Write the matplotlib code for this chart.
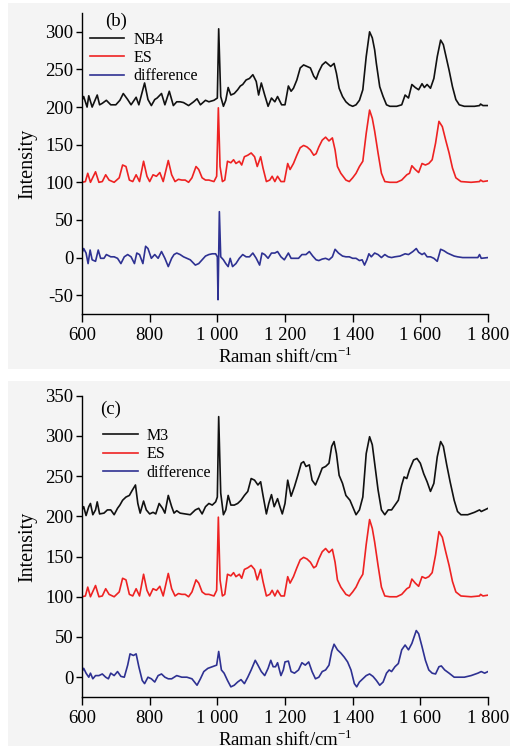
import matplotlib
matplotlib.use("Agg")
import matplotlib.pyplot as plt
from matplotlib.patches import Rectangle

plt.rcParams['font.family'] = ['Liberation Serif', 'DejaVu Serif']
plt.rcParams['mathtext.fontset'] = 'custom'
plt.rcParams['mathtext.rm'] = 'Liberation Serif'

# ---------------- data ----------------
xticks = [600, 800, 1000, 1200, 1400, 1600, 1800]
xtick_labels = ['600', '800', '1 000', '1 200', '1 400', '1 600', '1 800']
yticks_b = [-50, 0, 50, 100, 150, 200, 250, 300]
ytick_labels_b = ['-50', '0', '50', '100', '150', '200', '250', '300']
yticks_c = [0, 50, 100, 150, 200, 250, 300, 350]
ytick_labels_c = ['0', '50', '100', '150', '200', '250', '300', '350']

# NB4 spectrum (panel b)
nb4_x = [600, 605, 615, 620, 630, 645, 652, 660, 672, 685, 700, 712, 722, 735, 745, 760, 768,
         785, 795, 805, 815, 822, 835, 845, 858, 870, 880, 890, 900, 915, 930, 940, 950, 965,
         975, 990, 1000, 1004, 1010, 1018, 1025, 1032, 1040, 1050, 1060, 1068, 1075, 1085,
         1095, 1105, 1115, 1122, 1130, 1140, 1150, 1160, 1170, 1178, 1190, 1200, 1210, 1218,
         1225, 1235, 1245, 1255, 1265, 1275, 1285, 1292, 1300, 1310, 1320, 1330, 1335, 1345,
         1352, 1360, 1370, 1380, 1390, 1400, 1410, 1420, 1430, 1440, 1450, 1458, 1465, 1470,
         1480, 1490, 1500, 1510, 1530, 1545, 1555, 1565, 1575, 1585, 1595, 1605, 1612, 1620,
         1630, 1640, 1650, 1660, 1668, 1675, 1685, 1695, 1705, 1715, 1730, 1760, 1775, 1778,
         1785, 1800]
nb4_y = [209, 214, 200, 215, 200, 216, 203, 205, 209, 203, 203, 209, 218, 210, 203, 213, 203,
         232, 210, 202, 210, 212, 218, 203, 221, 202, 207, 207, 206, 202, 207, 211, 203, 209,
         207, 209, 212, 304, 214, 201, 209, 226, 216, 218, 223, 228, 230, 236,
         238, 243, 234, 216, 232, 216, 201, 212, 207, 214, 203, 203, 228, 221,
         225, 236, 252, 256, 254, 252, 241, 237, 247, 256, 260, 256, 254, 258,
         245, 225, 214, 207, 203, 201, 203, 209, 223, 267, 300, 292, 276, 258,
         227, 214, 203, 201, 201, 203, 216, 212, 230, 226, 223, 231, 226, 230,
         225, 238, 267, 289, 283, 269, 249, 227, 210, 203, 201, 201, 202, 204,
         202, 202]

# ES spectrum (both panels)
es_x = [600, 610, 617, 625, 640, 650, 660, 670, 680, 695, 710, 720, 730, 740, 750, 760, 770,
        782, 792, 800, 810, 820, 830, 840, 855, 865, 875, 885, 895, 905, 915, 925, 937, 945,
        955, 965, 975, 990, 998, 1003, 1008, 1015, 1022, 1030, 1040, 1048, 1055, 1065, 1072,
        1080, 1090, 1100, 1110, 1118, 1128, 1135, 1145, 1155, 1162, 1170, 1178, 1188, 1198,
        1208, 1215, 1225, 1235, 1245, 1255, 1265, 1275, 1285, 1292, 1300, 1310, 1320, 1330,
        1340, 1348, 1355, 1365, 1380, 1390, 1400, 1410, 1420, 1430, 1440, 1450, 1458, 1465,
        1475, 1485, 1495, 1510, 1530, 1545, 1560, 1568, 1575, 1585, 1595, 1605, 1615, 1625,
        1635, 1645, 1655, 1665, 1675, 1685, 1695, 1705, 1720, 1750, 1775, 1778, 1785, 1800]
es_y = [100, 101, 112, 100, 114, 100, 101, 110, 103, 100, 106, 123, 121, 103, 101, 110, 101,
        128, 108, 101, 110, 108, 113, 101, 129, 110, 101, 104, 103, 103, 100, 106, 121, 117,
        106, 103, 103, 101, 108, 199, 121, 101, 103, 128, 126, 130, 125, 128, 123,
        134, 136, 139, 134, 121, 134, 119, 101, 103, 108, 101, 108, 101, 101,
        125, 117, 125, 136, 146, 149, 147, 143, 136, 138, 147, 156, 160, 155,
        159, 143, 121, 112, 103, 101, 106, 112, 121, 128, 165, 196, 185, 168,
        139, 112, 101, 100, 100, 103, 110, 112, 122, 117, 113, 125, 123, 125,
        130, 152, 181, 174, 156, 139, 119, 106, 101, 100, 101, 103, 101, 102]

# difference, panel b
diff_b_x = [600, 605, 612, 618, 624, 630, 640, 648, 655, 665, 672, 685, 695, 705, 715, 725,
            735, 745, 755, 762, 770, 780, 788, 795, 805, 815, 825, 835, 845, 855, 865, 872,
            880, 890, 900, 910, 920, 935, 945, 955, 965, 975, 985, 995, 1000, 1002, 1006,
            1010, 1018, 1025, 1032, 1038, 1045, 1055, 1065, 1075, 1085, 1095, 1105, 1115,
            1125, 1132, 1140, 1150, 1160, 1170, 1178, 1188, 1198, 1210, 1218, 1228, 1240,
            1250, 1262, 1272, 1282, 1292, 1300, 1310, 1320, 1330, 1340, 1348, 1358, 1370,
            1380, 1390, 1400, 1410, 1420, 1428, 1435, 1442, 1448, 1455, 1465, 1475, 1485,
            1495, 1505, 1515, 1525, 1540, 1555, 1565, 1578, 1588, 1595, 1605, 1612, 1620,
            1630, 1640, 1650, 1660, 1670, 1680, 1690, 1700, 1710, 1725, 1750, 1770, 1775,
            1780, 1800]
diff_b_y = [6, 12, 6, -8, 10, -3, -5, 10, -1, -1, 4, 1, 1, -1, -8, 1,
            4, 1, -8, 6, 4, -8, 15, 12, -1, 4, -1, 8, -1, -12, -1, 4,
            6, 4, 1, -1, -3, -10, -8, -3, 2, 4, 5, 5, 1, -56, 61,
            1, -3, -8, -12, -1, -12, -8, -1, 4, 1, 1, 6, -1,
            -10, 6, 4, -1, 6, 6, 8, 1, -3, 6, -1, -1, -1,
            4, 4, 8, 2, -3, -4, -2, -1, -3, 1, 11, 6, 2,
            1, 1, -1, -1, -4, -3, -10, -3, 5, 1, 6, 4, 0,
            4, 1, 0, 1, 2, 5, 4, 8, 12, 7, 4, 6, 1,
            1, -1, -5, 11, 9, 6, 4, 2, 1, 0, 0, 0, 4,
            -1, 0]

# M3 spectrum (panel c)
m3_x = [600, 605, 612, 620, 625, 632, 640, 645, 652, 665, 675, 685, 695, 705, 712, 720, 730,
        740, 748, 758, 765, 772, 782, 790, 800, 810, 818, 828, 838, 845, 855, 865, 872, 880,
        890, 905, 920, 935, 945, 955, 965, 975, 985, 995, 1000, 1004, 1010, 1018, 1025, 1032,
        1040, 1050, 1060, 1070, 1080, 1090, 1100, 1110, 1120, 1128, 1135, 1145, 1152, 1160,
        1168, 1178, 1185, 1192, 1200, 1208, 1218, 1228, 1238, 1248, 1255, 1262, 1272, 1280,
        1290, 1300, 1310, 1320, 1330, 1338, 1345, 1352, 1360, 1370, 1380, 1392, 1400, 1410,
        1420, 1430, 1440, 1450, 1458, 1465, 1475, 1485, 1495, 1505, 1515, 1525, 1535, 1545,
        1552, 1560, 1568, 1580, 1590, 1600, 1610, 1620, 1630, 1640, 1650, 1660, 1668, 1678,
        1688, 1700, 1710, 1720, 1740, 1760, 1775, 1780, 1790, 1800]
m3_y = [208, 212, 201, 212, 216, 202, 208, 218, 203, 204, 208, 208, 202, 210, 214, 220, 224,
        226, 232, 239, 216, 204, 219, 208, 203, 205, 203, 216, 210, 204, 226, 212, 204, 207,
        204, 203, 202, 208, 210, 203, 212, 216, 214, 218, 224, 324, 229, 202, 208, 226,
        214, 214, 216, 220, 226, 231, 247, 245, 239, 243, 226, 203, 216, 227,
        212, 222, 212, 203, 216, 245, 225, 237, 251, 266, 268, 262, 264, 245,
        239, 249, 260, 262, 266, 287, 293, 278, 251, 241, 226, 220, 212, 202,
        208, 224, 278, 299, 289, 266, 233, 208, 202, 208, 208, 214, 220, 239,
        249, 247, 258, 270, 272, 266, 253, 243, 231, 241, 274, 293, 287, 264,
        243, 220, 206, 202, 202, 205, 208, 206, 208, 210]

# difference, panel c
diff_c_x = [600, 605, 612, 620, 625, 632, 640, 650, 660, 670, 678, 685, 695, 705, 715, 725,
            735, 742, 752, 760, 768, 778, 785, 795, 805, 815, 825, 835, 845, 855, 865, 880,
            895, 910, 925, 940, 950, 960, 972, 985, 998, 1004, 1012, 1020, 1030, 1040, 1050,
            1060, 1070, 1080, 1090, 1100, 1112, 1120, 1130, 1140, 1150, 1158, 1165, 1172,
            1178, 1188, 1195, 1200, 1210, 1218, 1228, 1240, 1250, 1260, 1270, 1280, 1290,
            1300, 1310, 1320, 1330, 1338, 1345, 1355, 1365, 1375, 1385, 1395, 1405, 1412,
            1420, 1430, 1440, 1450, 1460, 1470, 1480, 1490, 1500, 1508, 1515, 1525, 1535,
            1545, 1555, 1565, 1575, 1588, 1595, 1605, 1615, 1625, 1635, 1645, 1655, 1662,
            1672, 1685, 1700, 1715, 1730, 1750, 1770, 1780, 1790, 1800]
diff_c_y = [7, 11, 5, 0, 5, -2, 2, 2, 4, 0, -2, 5, 2, 7, 1, 0,
            15, 29, 27, 29, 13, -4, -8, 0, -2, -6, 2, 4, 0, -2, -2, 2,
            0, 0, -2, -10, -2, 7, 11, 13, 15, 32, 9, 5, -4, -12, -10,
            -6, -3, -8, 0, 9, 21, 15, 7, 2, 11, 21, 13, 13,
            18, 2, 9, 19, 20, 7, 5, 9, 18, 15, 19, 7, -2,
            0, 7, 9, 15, 32, 41, 34, 30, 25, 19, 9, -8, -12,
            -6, -2, 2, 4, 1, -4, -10, -6, 5, 9, 7, 13, 17,
            34, 40, 34, 42, 58, 54, 38, 21, 9, 5, 4, 13, 14,
            9, 5, 0, 0, 0, 2, 5, 7, 5, 7]

# ---------------- styling ----------------
BLACK = '#111111'
RED = '#ee2222'
BLUE = '#2e3192'
BG = '#f4f4f4'

W, H = 525, 750
fig = plt.figure(figsize=(5.25, 7.5), dpi=100)

# light grey panel backgrounds (drawn beneath the axes)
for (x0, y0, x1, y1) in [(8, 3, 510, 369), (8, 381, 510, 746)]:
    fig.patches.append(Rectangle((x0 / W, 1 - y1 / H), (x1 - x0) / W, (y1 - y0) / H,
                                 transform=fig.transFigure, facecolor=BG,
                                 edgecolor='none', zorder=-10))


def style_axes(ax, ylim, yticks, ylabels):
    ax.set_facecolor('none')
    ax.set_xlim(600, 1800)
    ax.set_ylim(*ylim)
    ax.set_xticks(xticks)
    ax.set_xticklabels(xtick_labels)
    ax.set_yticks(yticks)
    ax.set_yticklabels(ylabels)
    ax.spines['top'].set_visible(False)
    ax.spines['right'].set_visible(False)
    for s in ('left', 'bottom'):
        ax.spines[s].set_linewidth(1.0)
    ax.tick_params(axis='x', direction='out', length=5.5, width=1.0, labelsize=13.5, pad=3.5)
    ax.tick_params(axis='y', direction='out', length=4.5, width=1.0, labelsize=13.5, pad=1.5)
    ax.set_ylabel('Intensity', fontsize=14.5, labelpad=6)
    ax.set_xlabel('Raman shift/cm$^{-1}$', fontsize=13.5, labelpad=2)


leg_kw = dict(frameon=False, fontsize=11.5, handlelength=2.15, handletextpad=0.55,
              labelspacing=0.15, borderaxespad=0.3, borderpad=0.2)

# panel (b)
ax1 = fig.add_axes([82 / W, 1 - 314 / H, 406 / W, 301 / H])
l1, = ax1.plot(nb4_x, nb4_y, color=BLACK, lw=1.2, label='NB4')
l2, = ax1.plot(es_x, es_y, color=RED, lw=1.2, label='ES')
l3, = ax1.plot(diff_b_x, diff_b_y, color=BLUE, lw=1.2, label='difference')
style_axes(ax1, (-75, 325), yticks_b, ytick_labels_b)
ax1.text(0.058, 1.0, '(b)', transform=ax1.transAxes, fontsize=13.5, va='top')
ax1.legend(handles=[l1, l2, l3], loc='upper left', bbox_to_anchor=(-0.0, 0.965), **leg_kw)

# panel (c)
ax2 = fig.add_axes([82 / W, 1 - 697.3 / H, 406 / W, 301.6 / H])
m1, = ax2.plot(m3_x, m3_y, color=BLACK, lw=1.2, label='M3')
m2, = ax2.plot(es_x, es_y, color=RED, lw=1.2, label='ES')
m3, = ax2.plot(diff_c_x, diff_c_y, color=BLUE, lw=1.2, label='difference')
style_axes(ax2, (-25, 350), yticks_c, ytick_labels_c)
ax2.text(0.045, 0.985, '(c)', transform=ax2.transAxes, fontsize=13.5, va='top')
ax2.legend(handles=[m1, m2, m3], loc='upper left', bbox_to_anchor=(0.033, 0.92), **leg_kw)

fig.savefig('out.png', dpi=100, facecolor='white')
